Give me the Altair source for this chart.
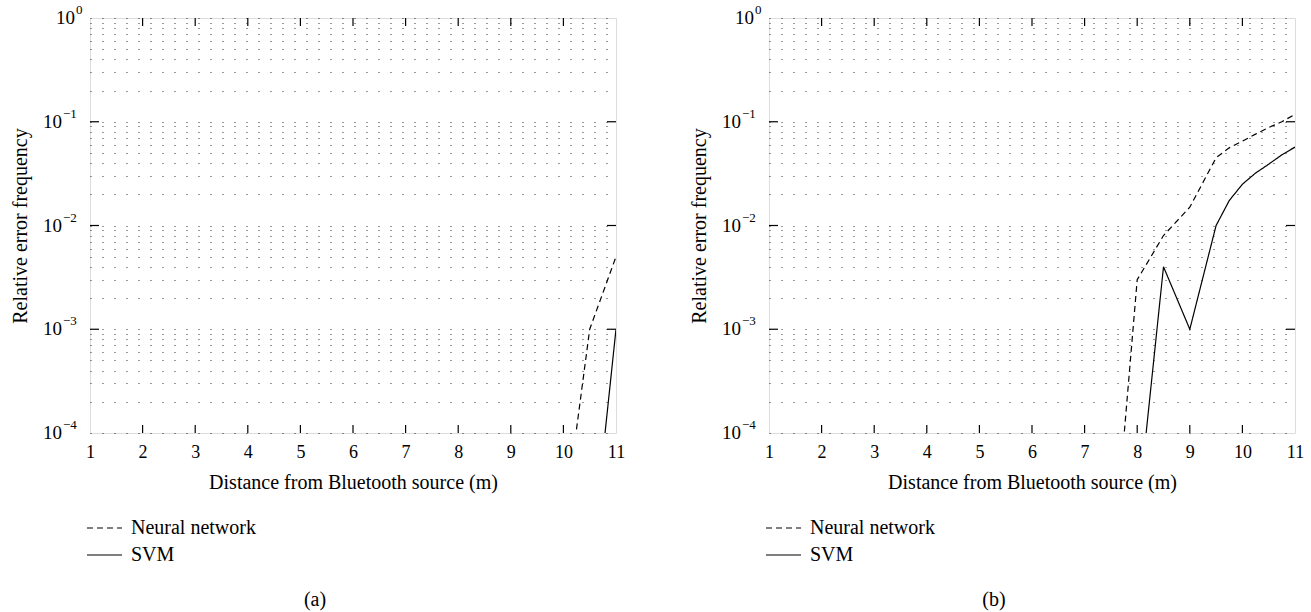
import altair as alt
import pandas as pd

FONT = "Liberation Serif"

# ---- data ----
x_tick_vals = [1, 2, 3, 4, 5, 6, 7, 8, 9, 10, 11]
decades = [1, 0.1, 0.01, 0.001, 0.0001]
exponents = ["0", "\u22121", "\u22122", "\u22123", "\u22124"]
grid_vals = [1, 0.9, 0.8, 0.7, 0.6, 0.5, 0.4, 0.3, 0.2,
             0.1, 0.09, 0.08, 0.07, 0.06, 0.05, 0.04, 0.03, 0.02,
             0.01, 0.009, 0.008, 0.007, 0.006, 0.005, 0.004, 0.003, 0.002,
             0.001, 0.0009, 0.0008, 0.0007, 0.0006, 0.0005, 0.0004, 0.0003, 0.0002,
             0.0001]
series_names = ["Neural network", "SVM"]

# panel (a)
a_nn_x = [10.0, 10.5, 11.0]
a_nn_y = [1.2e-5, 1e-3, 5e-3]
a_svm_x = [10.5, 11.0]
a_svm_y = [4e-6, 1e-3]

# panel (b)
b_nn_x = [7.5, 8.0, 8.5, 9.0, 9.5, 9.75, 10.0, 10.25, 10.5, 10.75, 11.0]
b_nn_y = [3e-6, 3e-3, 8e-3, 1.5e-2, 4.5e-2, 5.6e-2, 6.5e-2, 7.6e-2, 8.8e-2, 1.0e-1, 1.18e-1]
b_svm_x = [8.0, 8.5, 9.0, 9.5, 9.75, 10.0, 10.25, 10.5, 10.75, 11.0]
b_svm_y = [1.5e-5, 4e-3, 1e-3, 1e-2, 1.74e-2, 2.5e-2, 3.2e-2, 3.9e-2, 4.8e-2, 5.7e-2]

W = 526
H = 415

XS = alt.Scale(domain=[1, 11], nice=False, zero=False)
YS = alt.Scale(type="log", domain=[1e-4, 1], nice=False)
AX_X = alt.Axis(
    values=x_tick_vals, title="Distance from Bluetooth source (m)",
    ticks=False, domain=False, grid=False, labelPadding=10,
    labelFont=FONT, labelFontSize=18, labelColor="black",
    labelFlush=False, labelOverlap=False,
    titleFont=FONT, titleFontSize=20, titleFontWeight="normal",
    titleColor="black", titlePadding=11)
AX_Y = alt.Axis(
    values=grid_vals, labels=False, ticks=False, domain=False,
    grid=True, gridDash=[1, 11], gridColor="black", gridOpacity=0.8,
    gridWidth=1, title="Relative error frequency",
    titleFont=FONT, titleFontSize=20, titleFontWeight="normal",
    titleColor="black", titlePadding=60)


def X(f):
    return alt.X(f, scale=XS, axis=AX_X)


def Y(f):
    return alt.Y(f, scale=YS, axis=AX_Y)


def panel(nn_x, nn_y, svm_x, svm_y, tag):
    df = pd.concat([
        pd.DataFrame({"x": nn_x, "v": nn_y, "series": series_names[0]}),
        pd.DataFrame({"x": svm_x, "v": svm_y, "series": series_names[1]}),
    ])

    lines = alt.Chart(df).mark_line(clip=True, color="black", strokeWidth=1.2).encode(
        x=X("x:Q"),
        y=Y("v:Q"),
        strokeDash=alt.StrokeDash("series:N", scale=alt.Scale(
            domain=series_names, range=[[6, 4], [1, 0]]), legend=None),
        order=alt.Order("x:Q"),
    )

    tdx = pd.DataFrame({"t": x_tick_vals[1:-1]})
    tdy = pd.DataFrame({"d": decades[1:-1]})
    tick_style = dict(color="black", strokeWidth=1.2)
    bx = alt.Chart(tdx).mark_rule(**tick_style).encode(
        x=X("t:Q"), y=alt.value(H), y2=alt.value(H - 8))
    tx = alt.Chart(tdx).mark_rule(**tick_style).encode(
        x=X("t:Q"), y=alt.value(0), y2=alt.value(8))
    ly = alt.Chart(tdy).mark_rule(**tick_style).encode(
        y=Y("d:Q"), x=alt.value(0), x2=alt.value(9))
    ry = alt.Chart(tdy).mark_rule(**tick_style).encode(
        y=Y("d:Q"), x=alt.value(W - 9), x2=alt.value(W))

    lab = pd.DataFrame({"d": decades, "e": exponents})
    ten0 = alt.Chart(lab).transform_filter(alt.datum.e == "0").mark_text(
        align="right", baseline="middle", font=FONT, fontSize=19, color="black").encode(
        y=Y("d:Q"), x=alt.value(-15), text=alt.value("10"))
    exp0 = alt.Chart(lab).transform_filter(alt.datum.e == "0").mark_text(
        align="left", baseline="middle", font=FONT, fontSize=13, dy=-8, color="black").encode(
        y=Y("d:Q"), x=alt.value(-14), text="e:N")
    tenN = alt.Chart(lab).transform_filter(alt.datum.e != "0").mark_text(
        align="right", baseline="middle", font=FONT, fontSize=19, color="black").encode(
        y=Y("d:Q"), x=alt.value(-28), text=alt.value("10"))
    expN = alt.Chart(lab).transform_filter(alt.datum.e != "0").mark_text(
        align="left", baseline="middle", font=FONT, fontSize=13, dy=-8, color="black").encode(
        y=Y("d:Q"), x=alt.value(-27), text="e:N")

    # legend below the axis
    leg_nn = pd.DataFrame({"s": [series_names[0]]})
    leg_svm = pd.DataFrame({"s": [series_names[1]]})
    l1 = alt.Chart(leg_nn).mark_rule(color="black", strokeWidth=1.2, strokeDash=[6, 4]).encode(
        x=alt.value(-3), x2=alt.value(32), y=alt.value(510))
    l1t = alt.Chart(leg_nn).mark_text(align="left", baseline="middle", font=FONT,
                                      fontSize=20, color="black").encode(
        x=alt.value(41), y=alt.value(510), text="s:N")
    l2 = alt.Chart(leg_svm).mark_rule(color="black", strokeWidth=1.2).encode(
        x=alt.value(-3), x2=alt.value(32), y=alt.value(537))
    l2t = alt.Chart(leg_svm).mark_text(align="left", baseline="middle", font=FONT,
                                       fontSize=20, color="black").encode(
        x=alt.value(41), y=alt.value(537), text="s:N")
    tagc = alt.Chart(pd.DataFrame({"t": [tag]})).mark_text(
        align="center", baseline="middle", font=FONT, fontSize=20, color="black").encode(
        x=alt.value(225), y=alt.value(582), text="t:N")

    return alt.layer(lines, bx, tx, ly, ry, ten0, exp0, tenN, expN,
                     l1, l1t, l2, l2t, tagc).properties(width=W, height=H)


chart = alt.hconcat(
    panel(a_nn_x, a_nn_y, a_svm_x, a_svm_y, "(a)"),
    panel(b_nn_x, b_nn_y, b_svm_x, b_svm_y, "(b)"),
    spacing=62,
).configure_view(stroke="black", strokeWidth=1.2).configure(
    background="white", padding={"left": 9, "top": 3, "right": 5, "bottom": 5})

chart.save("out.html", embed_options={"renderer": "svg", "actions": False})
